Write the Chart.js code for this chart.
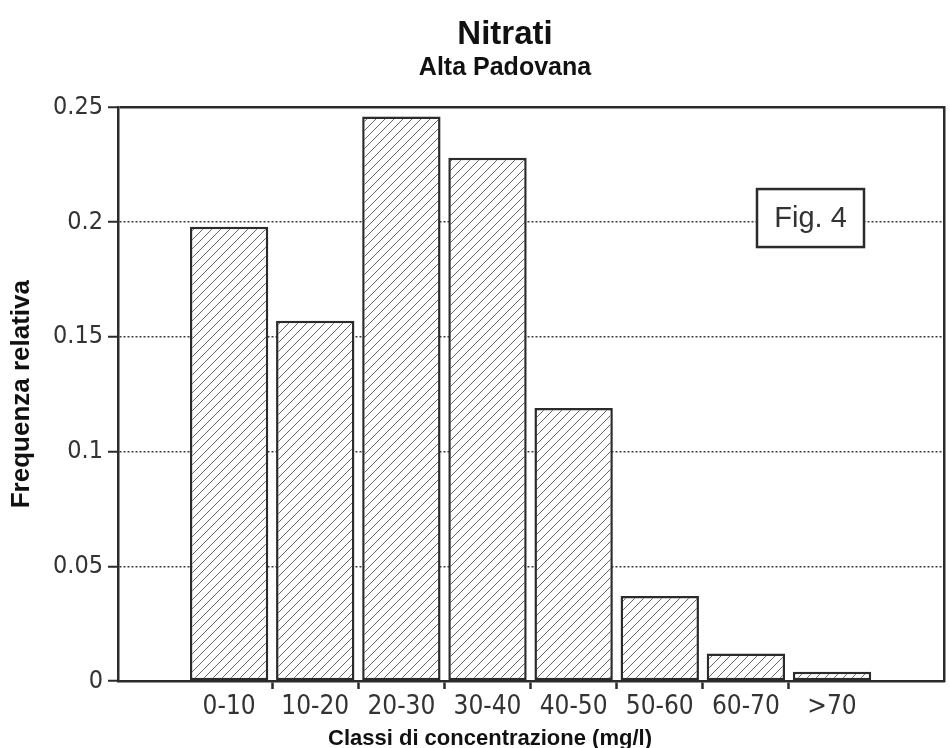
<!DOCTYPE html>
<html><head><meta charset="utf-8">
<script src="https://cdn.jsdelivr.net/npm/chart.js@4/dist/chart.umd.min.js"></script>
<style>html,body{margin:0;padding:0;background:#fff;}canvas{display:block;}</style>
</head><body>
<canvas id="c" width="950" height="748"></canvas>
<script>
// ---- data ----
const classes = ['0-10', '10-20', '20-30', '30-40', '40-50', '50-60', '60-70', '>70'];
const frequencies = [0.198, 0.157, 0.246, 0.228, 0.119, 0.037, 0.012, 0.004];
const yTickLabels = ['0', '0.05', '0.1', '0.15', '0.2', '0.25'];
const titleText = 'Nitrati';
const subtitleText = 'Alta Padovana';
const xTitleText = 'Classi di concentrazione (mg/l)';
const yTitleText = 'Frequenza relativa';
const figLabel = 'Fig. 4';

const INK = '#2b2b2b';
const SANS = '"Liberation Sans", Arial, Helvetica, sans-serif';
const NARROW = '"Liberation Sans Narrow", "DejaVu Sans Condensed", "Arial Narrow", sans-serif';

// hatch pattern
function makeHatch() {
  const s = 9;
  const c = document.createElement('canvas');
  c.width = s; c.height = s;
  const g = c.getContext('2d');
  g.fillStyle = '#ffffff';
  g.fillRect(0, 0, s, s);
  g.strokeStyle = '#666666';
  g.lineWidth = 1;
  g.beginPath();
  g.moveTo(0, s); g.lineTo(s, 0);
  g.moveTo(-1, 1); g.lineTo(1, -1);
  g.moveTo(s - 1, s + 1); g.lineTo(s + 1, s - 1);
  g.stroke();
  return g.createPattern(c, 'repeat');
}
const hatch = makeHatch();

const points = classes.map((c, i) => ({ x: i, y: frequencies[i] }));
const boundaries = classes.slice(1).map((_, i) => i + 0.5);
const X_MIN = -1.29, X_MAX = 8.30;

const extras = {
  id: 'extras',
  afterLayout(chart) {
    chart.boxes.forEach(b => {
      if (b.options && (b.options.text === titleText || b.options.text === subtitleText)) {
        b.left += 33; b.right += 33;
      }
    });
  },
  beforeDatasetsDraw(chart) {
    const { ctx, chartArea, scales } = chart;
    const yc = scales.y.getPixelForValue(0.2);
    const w = 107, h = 58;
    const bx = chartArea.right - 80 - w, by = yc - 33;
    ctx.save();
    ctx.fillStyle = '#ffffff';
    ctx.fillRect(bx, by, w, h);
    ctx.lineWidth = 2.5;
    ctx.strokeStyle = INK;
    ctx.strokeRect(bx, by, w, h);
    ctx.font = '29px ' + SANS;
    ctx.fillStyle = '#333';
    ctx.textAlign = 'center';
    ctx.textBaseline = 'middle';
    ctx.fillText(figLabel, bx + w / 2, by + h / 2 + 1);
    ctx.restore();
  },
  afterDraw(chart) {
    const { ctx, chartArea } = chart;
    ctx.save();
    ctx.font = 'bold 22px ' + SANS;
    ctx.fillStyle = '#111';
    ctx.textAlign = 'center';
    ctx.textBaseline = 'alphabetic';
    ctx.fillText(xTitleText, chartArea.left + 372, 745);
    ctx.restore();
  }
};

new Chart(document.getElementById('c'), {
  type: 'bar',
  data: {
    datasets: [{
      data: points,
      backgroundColor: hatch,
      borderColor: INK,
      borderWidth: 2.5,
      borderSkipped: false,
      barPercentage: 0.91,
      categoryPercentage: 1.0,
      xAxisID: 'x',
      yAxisID: 'y'
    }]
  },
  options: {
    responsive: false,
    devicePixelRatio: 1,
    animation: false,
    layout: { padding: { left: 0, right: 6, top: 0, bottom: 0 } },
    plugins: {
      legend: { display: false },
      tooltip: { enabled: false },
      title: {
        display: true, text: titleText, color: '#111',
        font: { family: SANS, size: 33, weight: 'bold', lineHeight: 1.1 },
        padding: { top: 17, bottom: 2 }
      },
      subtitle: {
        display: true, text: subtitleText, color: '#111',
        font: { family: SANS, size: 25, weight: 'bold', lineHeight: 1.0 },
        padding: { top: 0, bottom: 27 }
      }
    },
    scales: {
      xt: {
        type: 'linear', position: 'bottom', weight: 1,
        min: X_MIN, max: X_MAX, offset: false,
        afterBuildTicks: ax => { ax.ticks = boundaries.map(v => ({ value: v })); },
        ticks: { display: false },
        grid: { display: true, drawOnChartArea: false, drawTicks: true, offset: false,
                tickLength: 8, tickColor: INK, tickWidth: 2.5 },
        border: { display: true, color: INK, width: 2.5 }
      },
      x: {
        type: 'linear', position: 'bottom', weight: 2,
        min: X_MIN, max: X_MAX, offset: false,
        afterBuildTicks: ax => { ax.ticks = classes.map((c, i) => ({ value: i })); },
        afterFit: ax => { ax.height = 59; },
        ticks: {
          autoSkip: false, maxRotation: 0, minRotation: 0, padding: 3,
          color: '#333', font: { family: NARROW, size: 26 },
          callback: (v, i) => classes[i]
        },
        grid: { display: false, drawTicks: false, tickLength: 0, offset: false },
        border: { display: false }
      },
      y: {
        type: 'linear', position: 'left',
        min: 0, max: 0.25,
        afterFit: ax => { ax.width = 118; },
        ticks: {
          stepSize: 0.05, padding: 5, color: '#333',
          font: { family: NARROW, size: 25 },
          callback: (v, i) => yTickLabels[i]
        },
        grid: {
          display: true, drawOnChartArea: true, drawTicks: true,
          tickLength: 10, tickColor: INK, tickWidth: 2,
          color: ctx => ctx.index === yTickLabels.length - 1 ? INK : '#3a3a3a',
          lineWidth: ctx => ctx.index === yTickLabels.length - 1 ? 2.5 : 1.5
        },
        border: {
          display: true, color: INK, width: 2.5,
          dash: ctx => (ctx.index === yTickLabels.length - 1 || ctx.index === 0) ? [] : [2, 2]
        },
        title: {
          display: true, text: yTitleText, color: '#111',
          font: { family: SANS, size: 26, weight: 'bold' },
          padding: { top: 6, bottom: 0 }
        }
      },
      yr: {
        type: 'linear', position: 'right',
        min: 0, max: 0.25,
        ticks: { display: false },
        grid: { display: false, drawTicks: false, tickLength: 0 },
        border: { display: true, color: INK, width: 2.5 }
      }
    }
  },
  plugins: [extras]
});
</script>
</body></html>
